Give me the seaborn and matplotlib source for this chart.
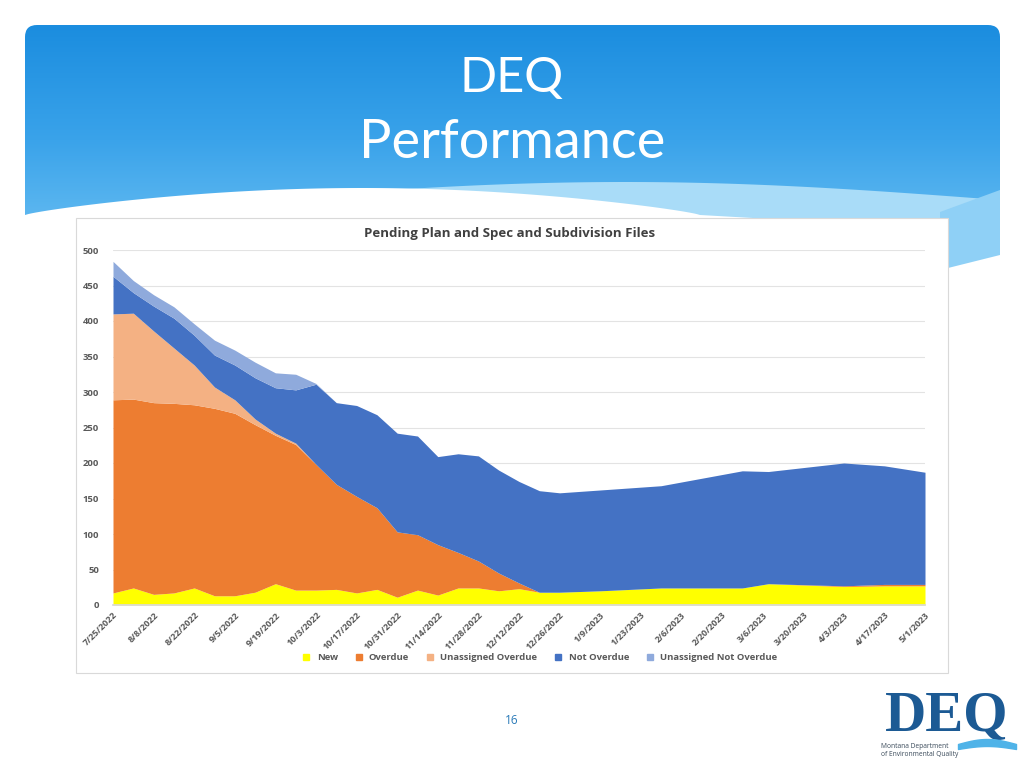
"""
DEQ Performance slide - pending plan/spec and subdivision files
"""

import numpy as np
import pandas as pd
import matplotlib.pyplot as plt
from matplotlib.colors import LinearSegmentedColormap
from matplotlib.patches import Rectangle, FancyBboxPatch, Polygon
from matplotlib.lines import Line2D
import seaborn as sns

sns.set_theme(style='white')
plt.rcParams['font.family'] = ['Open Sans', 'DejaVu Sans']

# 数据
dates = ['2022-07-25', '2022-08-01', '2022-08-08', '2022-08-15', '2022-08-22', '2022-08-29',
         '2022-09-05', '2022-09-12', '2022-09-19', '2022-09-26', '2022-10-03', '2022-10-10',
         '2022-10-17', '2022-10-24', '2022-10-31', '2022-11-07', '2022-11-14', '2022-11-21',
         '2022-11-28', '2022-12-05', '2022-12-12', '2022-12-19', '2022-12-26',
         '2023-01-09', '2023-01-30', '2023-02-27', '2023-03-08', '2023-04-03', '2023-04-17',
         '2023-05-01']
new = [17, 24, 15, 17, 24, 13, 13, 18, 30, 21, 21, 22, 17, 22, 11, 21, 14, 24, 24, 20, 23, 18, 18,
       20, 24, 24, 30, 26, 27, 27]
overdue = [272, 266, 270, 267, 258, 264, 257, 236, 209, 205, 177, 148, 136, 115, 92, 78, 71, 50,
           38, 25, 8, 0, 0,
           0, 0, 0, 0, 1, 2, 2]
unassigned_overdue = [121, 121, 101, 78, 56, 30, 19, 8, 3, 2, 0, 0, 0, 0, 0, 0, 0, 0, 0, 0, 0, 0, 0,
                      0, 0, 0, 0, 0, 0, 0]
not_overdue = [53, 29, 35, 42, 42, 45, 49, 58, 64, 75, 113, 115, 128, 131, 139, 139, 124, 139, 148,
               145, 143, 143, 140,
               142, 144, 165, 158, 173, 167, 158]
unassigned_not_overdue = [21, 17, 16, 16, 16, 21, 21, 22, 21, 22, 1, 0, 0, 0, 0, 0, 0, 0, 0, 0, 0, 0, 0,
                          0, 0, 0, 0, 0, 0, 0]

series_names = ['New', 'Overdue', 'Unassigned Overdue', 'Not Overdue', 'Unassigned Not Overdue']
series_colors = ['#FFFF00', '#ED7D31', '#F4B183', '#4472C4', '#8FAADC']
y_ticks = list(range(0, 501, 50))

df = pd.DataFrame({
    'date': pd.to_datetime(dates),
    'New': new,
    'Overdue': overdue,
    'Unassigned Overdue': unassigned_overdue,
    'Not Overdue': not_overdue,
    'Unassigned Not Overdue': unassigned_not_overdue,
})

fig = plt.figure(figsize=(10.24, 7.68), dpi=100)
fig.patch.set_facecolor('white')

# 背景 (slide decoration, pixel coords)
bg = fig.add_axes([0, 0, 1, 1], zorder=0)
bg.set_xlim(0, 1024)
bg.set_ylim(768, 0)
bg.axis('off')

grad = np.linspace(0, 1, 200)[:, None] * np.ones((1, 10))
hdr_cmap = LinearSegmentedColormap.from_list('hdr', ['#1b8ddf', '#3aa3ea', '#6cc0f3'])
header = FancyBboxPatch((25, 25), 975, 230, boxstyle='round,pad=0,rounding_size=12',
                        transform=bg.transData, facecolor='none', edgecolor='none')
bg.add_patch(header)
im = bg.imshow(grad, extent=[25, 1000, 255, 25], cmap=hdr_cmap, aspect='auto', zorder=1)
im.set_clip_path(header)

# waves at the bottom of the header
xs = np.linspace(250, 1000, 200)
band_top = 200 - 18 * np.sin((xs - 250) / 750 * np.pi)
band = Polygon(np.vstack([np.column_stack([xs, band_top]),
                          [[1000, 275], [250, 275]]]), closed=True,
               facecolor='#a9dcf8', edgecolor='none', zorder=2)
bg.add_patch(band)
wx = np.linspace(25, 700, 200)
white_top = 215 - 27 * np.sin((wx - 25) / 675 * np.pi) ** 0.8
white = Polygon(np.vstack([np.column_stack([wx, white_top]),
                           [[1000, 232], [1000, 300], [25, 300]]]), closed=True,
                facecolor='white', edgecolor='none', zorder=3)
bg.add_patch(white)
rx = np.linspace(940, 1000, 30)
right_wave = Polygon(np.vstack([[[940, 212], [1000, 190]],
                                np.column_stack([rx[::-1], 255 + 15 * (1000 - rx[::-1]) / 60])]),
                     closed=True, facecolor='#8fd0f6', edgecolor='none', zorder=3)
bg.add_patch(right_wave)

bg.text(512, 78, 'DEQ', color='white', fontsize=35, ha='center', va='center',
        family=['Lato', 'DejaVu Sans'], zorder=4)
bg.text(512, 143, 'Performance', color='white', fontsize=39, ha='center', va='center',
        family=['Lato', 'DejaVu Sans'], zorder=4)

# chart box
bg.add_patch(Rectangle((76, 218), 872, 455, facecolor='white', edgecolor='#d9d9d9',
                       linewidth=0.8, zorder=5))

# page number and logo
bg.text(512, 721, '16', color='#2a7ab8', fontsize=8.5, ha='center', va='center', zorder=5)
bg.text(947, 717, 'DEQ', color='#1c5a94', fontsize=41, fontweight='bold', ha='center',
        va='center', family=['Liberation Serif', 'DejaVu Serif'], zorder=5)
bg.text(881, 746, 'Montana Department', color='#3a4a5a', fontsize=4.8, ha='left',
        va='center', zorder=5)
bg.text(881, 755, 'of Environmental Quality', color='#3a4a5a', fontsize=4.8, ha='left',
        va='center', zorder=5)
lx = np.linspace(958, 1016, 40)
bg.fill_between(lx, 744 - 5 * np.sin((lx - 958) / 58 * np.pi), 749 - 3 * np.sin((lx - 958) / 58 * np.pi),
                color='#4fb3e8', zorder=5)

# 主图
ax = fig.add_axes([113 / 1024, 1 - 605 / 768, 812 / 1024, 355 / 768], zorder=6)
ax.set_facecolor('none')
ax.stackplot(df['date'], [df[n] for n in series_names], colors=series_colors,
             labels=series_names, linewidth=0)

ax.set_ylim(0, 500)
ax.set_yticks(y_ticks)
ax.set_xlim(pd.Timestamp('2022-07-25'), pd.Timestamp('2023-05-01'))
tick_dates = pd.date_range('2022-07-25', '2023-05-01', freq='14D')
ax.set_xticks(tick_dates)
ax.set_xticklabels([f'{d.month}/{d.day}/{d.year}' for d in tick_dates], rotation=45,
                   ha='right', rotation_mode='anchor')
ax.tick_params(axis='x', labelsize=6.6, colors='#595959', length=0, pad=4)
ax.tick_params(axis='y', labelsize=6.8, colors='#595959', length=0, pad=10)
for lbl in ax.get_xticklabels() + ax.get_yticklabels():
    lbl.set_fontweight('bold')
ax.yaxis.grid(True, color='#e3e3e3', linewidth=0.8)
ax.set_axisbelow(True)
sns.despine(ax=ax, left=True, bottom=True)
ax.spines['bottom'].set_visible(True)
ax.spines['bottom'].set_color('#d9d9d9')

fig.text(510 / 1024, 1 - 234 / 768, 'Pending Plan and Spec and Subdivision Files',
         ha='center', va='center', fontsize=9.5, fontweight='bold', color='#404040', zorder=7)

handles = [Line2D([], [], marker='s', linestyle='none', markersize=5, color=c) for c in series_colors]
leg = fig.legend(handles, series_names, loc='center', bbox_to_anchor=(537 / 1024, 1 - 658 / 768),
                 ncol=5, frameon=False, fontsize=6.8, handletextpad=0.1, columnspacing=1.2)
for t in leg.get_texts():
    t.set_color('#595959')
    t.set_fontweight('bold')
leg.set_zorder(7)

fig.savefig('out.png', dpi=100, facecolor='white')
